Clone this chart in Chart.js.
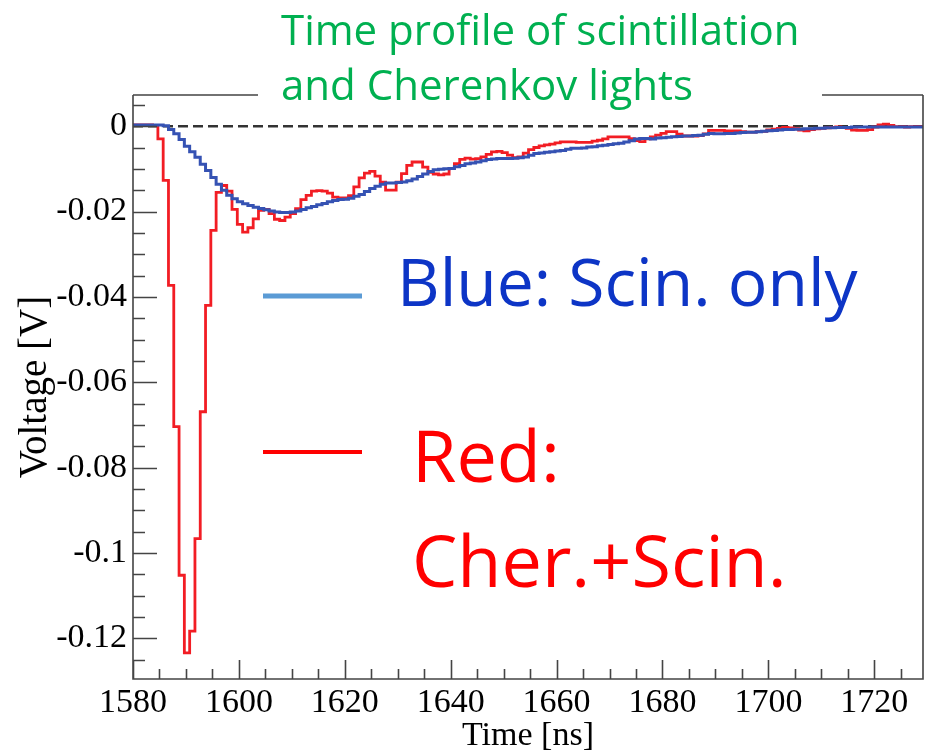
<!DOCTYPE html>
<html>
<head>
<meta charset="utf-8">
<script src="https://cdn.jsdelivr.net/npm/chart.js@4.4.1/dist/chart.umd.min.js"></script>
<style>
  html, body { margin: 0; padding: 0; background: #fff; }
  #wrap { width: 926px; height: 753px; position: relative; }
</style>
</head>
<body>
<div id="wrap"><canvas id="pulse" width="926" height="753"></canvas></div>
<script>
// ── DATA ─────────────────────────────────────────────────────────────
// waveform samples, 1 ns bins; first bin starts at BIN_START
const BIN_START = 1579.7;
const BIN_WIDTH = 1;

// red: Cherenkov + scintillation
const cherScin = [
  0.0003, 0.0003, 0.0003, 0.0003, 0.0002, -0.003, -0.0127, -0.0373, -0.0704, -0.1052,
  -0.1234, -0.1183, -0.0966, -0.0669, -0.042, -0.0244, -0.0155, -0.0139, -0.0152, -0.0195,
  -0.023, -0.0248, -0.0238, -0.0217, -0.0197, -0.0195, -0.0205, -0.0218, -0.0221, -0.0213,
  -0.0205, -0.0193, -0.0172, -0.0162, -0.0152, -0.0151, -0.0152, -0.0157, -0.0166, -0.0168,
  -0.0168, -0.0163, -0.0142, -0.0121, -0.011, -0.0106, -0.0117, -0.0131, -0.015, -0.015,
  -0.0131, -0.0111, -0.0092, -0.0084, -0.0084, -0.0096, -0.0108, -0.0112, -0.0114, -0.0112,
  -0.0099, -0.0088, -0.0078, -0.0075, -0.0077, -0.0076, -0.0072, -0.0066, -0.006, -0.0059,
  -0.0062, -0.0068, -0.0074, -0.0072, -0.0063, -0.0055, -0.005, -0.0046, -0.0044, -0.0042,
  -0.0039, -0.0037, -0.0037, -0.0037, -0.0038, -0.0038, -0.0038, -0.0035, -0.0033, -0.003,
  -0.0025, -0.0025, -0.0025, -0.0025, -0.0029, -0.0034, -0.0036, -0.003, -0.0025, -0.0021,
  -0.0017, -0.0013, -0.0013, -0.0019, -0.0023, -0.0023, -0.0023, -0.0022, -0.0018, -0.001,
  -0.001, -0.001, -0.0011, -0.0011, -0.0011, -0.0013, -0.0014, -0.0014, -0.0013, -0.0012,
  -0.0009, -0.0007, -0.0005, -0.0003, -0.0004, -0.0006, -0.0009, -0.0011, -0.0008, -0.0006,
  -0.0005, -0.0004, -0.0003, -0.0002, -0.0003, -0.0005, -0.0009, -0.001, -0.001, -0.0008,
  -0.0002, 0.0003, 0.0005, 0.0002, -0.0001, -0.0001, -0.0002, -0.0001, -0.0001, -0.0001
];

// blue: scintillation only
const scinOnly = [
  0.0003, 0.0003, 0.0003, 0.0003, 0.0003, 0.0003, 0.0001, -0.0008, -0.0018, -0.0031,
  -0.0047, -0.006, -0.0073, -0.0089, -0.0104, -0.012, -0.0136, -0.015, -0.0162, -0.017,
  -0.0177, -0.0182, -0.0186, -0.019, -0.0193, -0.0196, -0.0199, -0.0201, -0.0202, -0.0202,
  -0.0201, -0.0199, -0.0195, -0.0191, -0.0188, -0.0184, -0.0181, -0.0177, -0.0174, -0.0172,
  -0.0171, -0.0169, -0.0164, -0.016, -0.0153, -0.0146, -0.0141, -0.0136, -0.0133, -0.0133,
  -0.0132, -0.0131, -0.0128, -0.0124, -0.0118, -0.0112, -0.0106, -0.0102, -0.0101, -0.01,
  -0.0099, -0.0095, -0.0092, -0.0088, -0.0086, -0.0084, -0.0081, -0.0078, -0.0077, -0.0076,
  -0.0076, -0.0076, -0.0075, -0.0074, -0.0072, -0.0068, -0.0064, -0.0063, -0.0061, -0.006,
  -0.0058, -0.0057, -0.0054, -0.0052, -0.0052, -0.0051, -0.0049, -0.0048, -0.0046, -0.0045,
  -0.0043, -0.0041, -0.004, -0.0037, -0.0034, -0.003, -0.0029, -0.0029, -0.003, -0.0028,
  -0.0027, -0.0026, -0.0025, -0.0024, -0.0023, -0.0023, -0.0022, -0.0021, -0.0019, -0.0017,
  -0.0018, -0.0018, -0.0017, -0.0017, -0.0016, -0.0015, -0.0014, -0.0014, -0.0013, -0.0012,
  -0.0011, -0.001, -0.0009, -0.0008, -0.0008, -0.0007, -0.0007, -0.0006, -0.0006, -0.0005,
  -0.0005, -0.0004, -0.0004, -0.0003, -0.0003, -0.0003, -0.0002, -0.0002, -0.0002, -0.0002,
  -0.0002, -0.0002, -0.0002, -0.0002, -0.0002, -0.0002, -0.0002, -0.0002, -0.0002, -0.0002
];

const xTicks = [1580, 1600, 1620, 1640, 1660, 1680, 1700, 1720];
const yTicks = [0, -0.02, -0.04, -0.06, -0.08, -0.1, -0.12];
const X_MIN = 1580, X_MAX = 1729.2;
const Y_MIN = -0.1295, Y_MAX = 0.0073;

const titleLines = ['Time profile of scintillation', 'and Cherenkov lights'];
const blueLabel = 'Blue: Scin. only';
const redLabels = ['Red:', 'Cher.+Scin.'];

// ── HELPERS ──────────────────────────────────────────────────────────
// histogram: point at left edge of each bin + closing point at the last right edge
function toSteps(vals) {
  const pts = vals.map((v, i) => ({ x: BIN_START + i * BIN_WIDTH, y: v }));
  pts.push({ x: BIN_START + vals.length * BIN_WIDTH, y: vals[vals.length - 1] });
  return pts;
}

const SERIF = '"Liberation Serif", "Times New Roman", serif';
const SANS = '"Open Sans", "Noto Sans", sans-serif';

// ROOT style frame with inward ticks, title box and slide annotations
const decorPlugin = {
  id: 'decor',
  afterDatasetsDraw(chart) {
    const { ctx, chartArea: a, scales: { x, y } } = chart;
    ctx.save();
    ctx.strokeStyle = '#444';
    ctx.lineWidth = 1.6;
    ctx.beginPath();
    ctx.moveTo(a.left, a.top); ctx.lineTo(a.left, a.bottom);
    ctx.lineTo(a.right, a.bottom); ctx.lineTo(a.right, a.top);
    ctx.moveTo(a.left, a.top); ctx.lineTo(258, a.top);
    ctx.moveTo(822, a.top); ctx.lineTo(a.right, a.top);
    // x ticks every 5 ns, major every 20
    for (let v = 1580; v < X_MAX; v += 5) {
      const px = Math.round(x.getPixelForValue(v)) + 0.5;
      const len = v % 20 === 0 ? 19 : 10;
      ctx.moveTo(px, a.bottom); ctx.lineTo(px, a.bottom - len);
    }
    // y ticks every 0.005, major every 0.02
    for (let k = 1; k >= -25; k--) {
      const py = Math.round(y.getPixelForValue(k * 0.005)) + 0.5;
      const len = k % 4 === 0 ? 24 : 12;
      ctx.moveTo(a.left, py); ctx.lineTo(a.left + len, py);
    }
    ctx.stroke();
    ctx.restore();
  },
  afterDraw(chart) {
    const { ctx } = chart;
    ctx.save();
    // title
    ctx.fillStyle = '#00b050';
    ctx.font = '42px ' + SANS;
    ctx.textBaseline = 'alphabetic';
    ctx.fillText(titleLines[0], 281, 45);
    ctx.fillText(titleLines[1], 281, 100);
    // legend: blue
    ctx.strokeStyle = '#5b9bd5';
    ctx.lineWidth = 5;
    ctx.beginPath(); ctx.moveTo(263, 296); ctx.lineTo(362, 296); ctx.stroke();
    ctx.fillStyle = '#0d35c6';
    ctx.font = '66px ' + SANS;
    ctx.fillText(blueLabel, 397, 306);
    // legend: red
    ctx.strokeStyle = '#ff0000';
    ctx.lineWidth = 4;
    ctx.beginPath(); ctx.moveTo(263, 452); ctx.lineTo(362, 452); ctx.stroke();
    ctx.fillStyle = '#ff0000';
    ctx.font = '72px ' + SANS;
    ctx.fillText(redLabels[0], 412, 482);
    ctx.fillText(redLabels[1], 412, 587);
    ctx.restore();
  }
};

// ── CHART ────────────────────────────────────────────────────────────
new Chart(document.getElementById('pulse'), {
  type: 'line',
  data: {
    datasets: [
      { label: 'Scin. only', data: toSteps(scinOnly), borderColor: '#3552b3', borderWidth: 3,
        stepped: 'before', pointRadius: 0, fill: false },
      { label: 'Cher.+Scin.', data: toSteps(cherScin), borderColor: '#f21d24', borderWidth: 2.8,
        stepped: 'before', pointRadius: 0, fill: false },
      { label: 'zero', data: [{ x: X_MIN, y: 0 }, { x: X_MAX, y: 0 }], borderColor: '#333',
        borderWidth: 2.5, borderDash: [10, 5], pointRadius: 0, fill: false }
    ]
  },
  options: {
    responsive: false, animation: false, devicePixelRatio: 1,
    layout: { padding: { top: 95, right: 3, left: 0, bottom: 0 } },
    plugins: { legend: { display: false }, tooltip: { enabled: false }, title: { display: false } },
    scales: {
      x: {
        type: 'linear', min: X_MIN, max: X_MAX,
        grid: { display: false, drawTicks: false }, border: { display: false },
        afterBuildTicks: s => { s.ticks = xTicks.map(v => ({ value: v })); },
        afterFit: s => { s.height = 74; },
        ticks: { color: '#000', font: { family: SERIF, size: 34 }, padding: 4, maxRotation: 0,
                 autoSkip: false, callback: v => String(v) },
        title: { display: true, text: 'Time [ns]', color: '#000',
                 font: { family: SERIF, size: 34, lineHeight: 1 }, padding: 0 }
      },
      y: {
        type: 'linear', min: Y_MIN, max: Y_MAX,
        grid: { display: false, drawTicks: false }, border: { display: false },
        afterBuildTicks: s => { s.ticks = yTicks.map(v => ({ value: v })); },
        afterFit: s => { s.width = 133; },
        ticks: { color: '#000', font: { family: SERIF, size: 34 }, padding: 6,
                 autoSkip: false, callback: v => String(v) },
        title: { display: true, text: 'Voltage [V]', color: '#000',
                 font: { family: SERIF, size: 39, lineHeight: 1 }, padding: { top: 16 } }
      }
    }
  },
  plugins: [decorPlugin]
});
</script>
</body>
</html>
